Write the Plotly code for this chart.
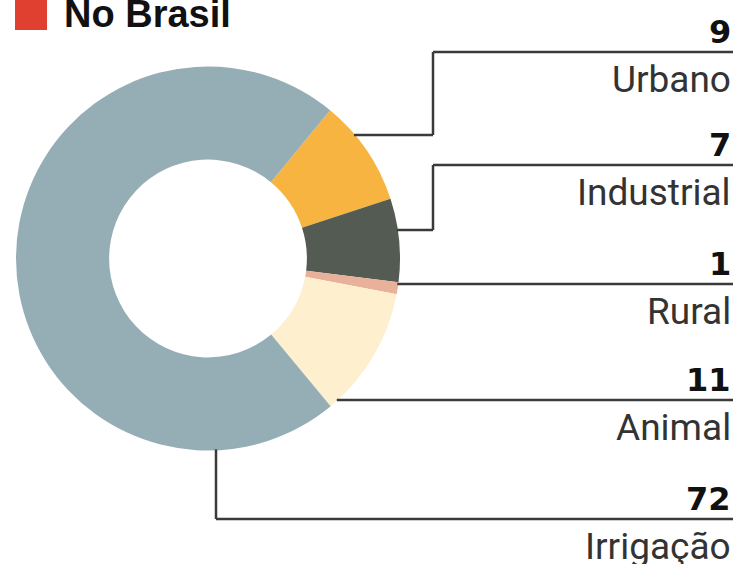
import math
import plotly.graph_objects as go

# ---- data ----
categories = ["Urbano", "Industrial", "Rural", "Animal", "Irrigação"]
values = [9, 7, 1, 11, 72]
value_labels = ["9", "7", "1", "11", "72"]
colors = ["#F8B440", "#545B52", "#E9B09A", "#FEF0CF", "#95AEB6"]
title_text = "No Brasil"

# ---- layout constants (pixels) ----
W, H = 737, 564
CX, CY, R = 208, 258.5, 192
HOLE = 0.515
ROTATION = 39.5
LABEL_RIGHT = 733
ELBOW_X = 433
label_line_y = [52, 165, 284, 400, 519]
leader_start_y = [135, 230, 284, 400, None]
irrig_x = 216
LINE_COLOR = "#3a3a3a"


def px(x):
    return x / W


def py(y):
    return 1 - y / H


fig = go.Figure()
fig.add_trace(go.Pie(
    labels=categories, values=values, sort=False, direction="clockwise",
    rotation=ROTATION, hole=HOLE, marker=dict(colors=colors, line=dict(width=0)),
    textinfo="none", hoverinfo="skip", showlegend=False,
    domain=dict(x=[px(CX - R), px(CX + R)], y=[py(CY + R), py(CY - R)]),
))

shapes = []


def seg(x0, y0, x1, y1):
    shapes.append(dict(type="line", xref="paper", yref="paper",
                       x0=px(x0), y0=py(y0), x1=px(x1), y1=py(y1),
                       line=dict(color=LINE_COLOR, width=2.5)))


for i, cat in enumerate(categories):
    ly = label_line_y[i]
    sy = leader_start_y[i]
    if sy is not None:
        sx = CX + math.sqrt(max(R * R - (sy - CY) ** 2, 0)) - 1
        if sy != ly:
            seg(sx, sy, ELBOW_X, sy)
            seg(ELBOW_X, sy, ELBOW_X, ly)
            seg(ELBOW_X, ly, LABEL_RIGHT, ly)
        else:
            seg(sx, ly, LABEL_RIGHT, ly)
    else:
        sy2 = CY + math.sqrt(R * R - (irrig_x - CX) ** 2) - 1
        seg(irrig_x, sy2, irrig_x, ly)
        seg(irrig_x, ly, LABEL_RIGHT, ly)

# red square next to title
shapes.append(dict(type="rect", xref="paper", yref="paper",
                   x0=px(15), x1=px(47), y0=py(30), y1=py(-5),
                   fillcolor="#E0402F", line=dict(width=0)))

annotations = []
for i, cat in enumerate(categories):
    ly = label_line_y[i]
    annotations.append(dict(
        xref="paper", yref="paper", x=px(LABEL_RIGHT), y=py(ly - 20),
        xanchor="right", yanchor="middle", showarrow=False,
        text="<b>%s</b>" % value_labels[i],
        font=dict(family="DejaVu Sans", size=32, color="#111111")))
    annotations.append(dict(
        xref="paper", yref="paper", x=px(LABEL_RIGHT), y=py(ly + 27),
        xanchor="right", yanchor="middle", showarrow=False,
        text=cat,
        font=dict(family="Roboto", size=37, color="#333333")))

annotations.append(dict(
    xref="paper", yref="paper", x=px(62), y=py(14),
    xanchor="left", yanchor="middle", showarrow=False,
    text="<b>%s</b>" % title_text,
    font=dict(family="Liberation Sans", size=38, color="#111111")))

fig.update_layout(width=W, height=H, margin=dict(l=0, r=0, t=0, b=0),
                  paper_bgcolor="white", plot_bgcolor="white",
                  shapes=shapes, annotations=annotations)
fig.write_html("out.html", config={"displayModeBar": False},
               post_script="document.body.style.margin='0';document.body.style.overflow='hidden';")
